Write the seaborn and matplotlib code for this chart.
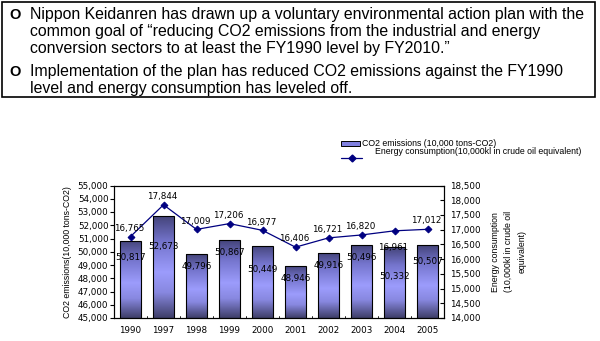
import numpy as np
import pandas as pd
import matplotlib
matplotlib.use("Agg")
import matplotlib.pyplot as plt
import matplotlib.patches as mpatches
from matplotlib.lines import Line2D
from matplotlib.colors import LinearSegmentedColormap
import seaborn as sns

# ---- data ----
years = ["1990", "1997", "1998", "1999", "2000", "2001", "2002", "2003", "2004", "2005"]
co2 = [50817, 52673, 49796, 50867, 50449, 48946, 49916, 50496, 50332, 50507]
energy = [16765, 17844, 17009, 17206, 16977, 16406, 16721, 16820, 16961, 17012]
co2_ticks = list(range(45000, 55001, 1000))
energy_ticks = list(range(14000, 18501, 500))

# label placement tweaks (points)
co2_label_dy = [-12, -22, -9, -9, -17, -9, -9, -9, -21, -12]
energy_label_dy = [6, 6, 6, 6, 6, 6, 6, 6, -12, 6]

header_lines = [
    ("O", "Nippon Keidanren has drawn up a voluntary environmental action plan with the"),
    (None, "common goal of \u201creducing CO2 emissions from the industrial and energy"),
    (None, "conversion sectors to at least the FY1990 level by FY2010.\u201d"),
    ("O", "Implementation of the plan has reduced CO2 emissions against the FY1990"),
    (None, "level and energy consumption has leveled off."),
]

df = pd.DataFrame({"year": years, "co2": co2, "energy": energy})

sns.set_style("white")
plt.rcParams['font.family'] = ['DejaVu Sans']
for k in ["text.color", "axes.labelcolor", "xtick.color", "ytick.color", "axes.edgecolor"]:
    plt.rcParams[k] = "black"

W, H = 600, 341
fig = plt.figure(figsize=(6.0, 3.41), dpi=100)
NARROW = ["Liberation Sans"]

# ---- header box ----
box = mpatches.Rectangle((2 / W, 1 - 97 / H), (595 - 2) / W, (97 - 2) / H,
                         transform=fig.transFigure, fill=False, edgecolor="black",
                         linewidth=1.2)
fig.patches.append(box)
baselines = [19, 36, 53, 76, 93]
for (bul, txt), yb in zip(header_lines, baselines):
    if bul:
        fig.text(9 / W, 1 - yb / H, bul, fontsize=10.5, fontweight="bold",
                 family=["Liberation Sans"], va="baseline", ha="left")
    fig.text(30 / W, 1 - yb / H, txt, fontsize=11.45, family=NARROW,
             va="baseline", ha="left")

# ---- axes ----
ax = fig.add_axes([114 / W, 1 - 318 / H, (444 - 114) / W, (318 - 185.5) / H])
sns.barplot(data=df, x="year", y="co2", ax=ax, width=0.63, color="#8080e0",
            edgecolor="black", linewidth=0.8, zorder=2)
ax.set_ylim(45000, 55000)
ax.set_xlim(-0.5, len(years) - 0.5)

# gradient fill clipped to each bar
cmap = LinearSegmentedColormap.from_list(
    "barg", [(0.0, "#44447a"), (0.25, "#7474cc"), (0.55, "#9c9cfc"), (0.75, "#8888e0"), (1.0, "#3e3e68")])
grad = np.linspace(0, 1, 256).reshape(-1, 1)
for bar in ax.patches:
    x0, y0 = bar.get_x(), bar.get_y()
    w, h = bar.get_width(), bar.get_height()
    im = ax.imshow(grad, cmap=cmap, aspect="auto", origin="upper",
                   extent=(x0, x0 + w, 45000, y0 + h), zorder=2.5)
    im.set_clip_path(bar)
    bar.set_facecolor("none")
    bar.set_zorder(3)
ax.set_xlim(-0.5, len(years) - 0.5)
ax.set_ylim(45000, 55000)

for i, v in enumerate(co2):
    ax.annotate(f"{v:,}", (i, v), xytext=(0, co2_label_dy[i]), textcoords="offset points",
                ha="center", va="center", fontsize=6.3, zorder=6)

ax.set_yticks(co2_ticks)
ax.set_yticklabels([f"{t:,}" for t in co2_ticks], fontsize=6.3)
ax.set_xticks(range(len(years)))
ax.set_xticklabels(years, fontsize=6.3)
ax.set_xlabel("")
ax.set_ylabel("CO2 emissions(10,000 tons-CO2)", fontsize=6.3, family=NARROW, labelpad=4)
ax.tick_params(axis="y", direction="out", length=3, width=0.8, left=True, pad=1)
ax.tick_params(axis="x", length=0, pad=6)
for sp in ax.spines.values():
    sp.set_linewidth(0.8)
    sp.set_color("black")
# small category separators on x axis
for b in np.arange(0.5, len(years) - 0.5, 1.0):
    ax.plot([b, b], [45000, 45120], color="black", lw=0.6, zorder=4, clip_on=False)

ax2 = ax.twinx()
sns.pointplot(data=df, x="year", y="energy", ax=ax2, color="#000080", markers="D",
              markersize=3.5, linewidth=0.9, zorder=5)
ax2.set_ylim(14000, 18500)
ax2.set_xlim(-0.5, len(years) - 0.5)
ax2.set_yticks(energy_ticks)
ax2.set_yticklabels([f"{t:,}" for t in energy_ticks], fontsize=6.3)
ax2.tick_params(axis="y", direction="in", length=3, width=0.8, right=True, pad=4)
ax2.set_xlabel("")
ax2.set_ylabel("Energy consumption\n(10,000kl in crude oil\nequivalent)", fontsize=6.3,
               family=NARROW, rotation=90, labelpad=8, linespacing=1.6)
for sp in ax2.spines.values():
    sp.set_linewidth(0.8)
    sp.set_color("black")
for i, v in enumerate(energy):
    ax2.annotate(f"{v:,}", (i, v), xytext=(-1, energy_label_dy[i]), textcoords="offset points",
                 ha="center", va="center", fontsize=6.3, zorder=7)

# ---- legend (Excel-style layout) ----
leg_patch = mpatches.Rectangle((341 / W, 1 - 146 / H), 19 / W, 5 / H, transform=fig.transFigure,
                               facecolor="#8080e0", edgecolor="black", linewidth=0.7)
fig.patches.append(leg_patch)
fig.text(362 / W, 1 - 143.5 / H, "CO2 emissions (10,000 tons-CO2)", fontsize=6.3,
         family=NARROW, va="center", ha="left")
fig.lines.append(Line2D([341 / W, 362 / W], [1 - 158 / H, 1 - 158 / H], transform=fig.transFigure,
                        color="#000080", lw=0.9))
fig.lines.append(Line2D([351.5 / W], [1 - 158 / H], transform=fig.transFigure, color="#000080",
                        marker="D", markersize=3.5, lw=0))
fig.text(375 / W, 1 - 151.5 / H, "Energy consumption(10,000kl in crude oil equivalent)",
         fontsize=6.3, family=NARROW, va="center", ha="left")

fig.savefig("out.png", dpi=100)
